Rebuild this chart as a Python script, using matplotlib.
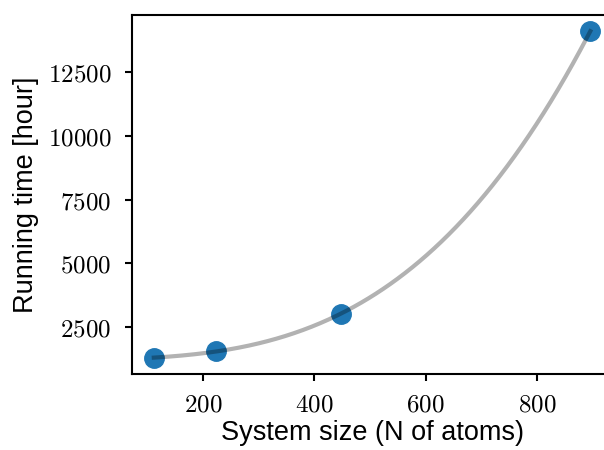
# Running time vs. system size, with a cubic fit through the points.
import numpy as np
import matplotlib as mpl
mpl.use("Agg")
import matplotlib.pyplot as plt
from matplotlib.ticker import FuncFormatter

mpl.rcParams["mathtext.fontset"] = "cm"
mpl.rcParams["font.family"] = ["Liberation Sans", "DejaVu Sans"]

# Data.
n_atoms = np.array([112, 224, 448, 896])
run_hours = np.array([1320, 1560, 3040, 14080])

# Smooth curve: cubic polynomial fit of the points.
coeffs = np.polyfit(n_atoms, run_hours, 3)
n_fine = np.linspace(n_atoms.min(), n_atoms.max(), 300)
fit_hours = np.polyval(coeffs, n_fine)

fig = plt.figure(figsize=(6.04, 4.5), dpi=100)
ax = fig.add_axes([0.2185, 0.169, 0.795, 0.798])

ax.plot(n_atoms, run_hours, "o", color="tab:blue", markersize=14)
ax.plot(n_fine, fit_hours, color="k", alpha=0.3, linewidth=3)

tex_fmt = FuncFormatter(lambda v, pos: r"$%d$" % v)
ax.xaxis.set_major_formatter(tex_fmt)
ax.yaxis.set_major_formatter(tex_fmt)
ax.set_xticks([200, 400, 600, 800])
ax.set_yticks([2500, 5000, 7500, 10000, 12500])

ax.tick_params(labelsize=18, width=1.5, length=5)
ax.tick_params(axis="y", pad=10)
ax.tick_params(axis="x", pad=8)
for s in ax.spines.values():
  s.set_linewidth(1.5)

ax.set_xlabel("System size (N of atoms)", fontsize=19.5, labelpad=3)
ax.set_ylabel("Running time [hour]", fontsize=19.5, labelpad=6)

fig.savefig("out.png", dpi=100)
